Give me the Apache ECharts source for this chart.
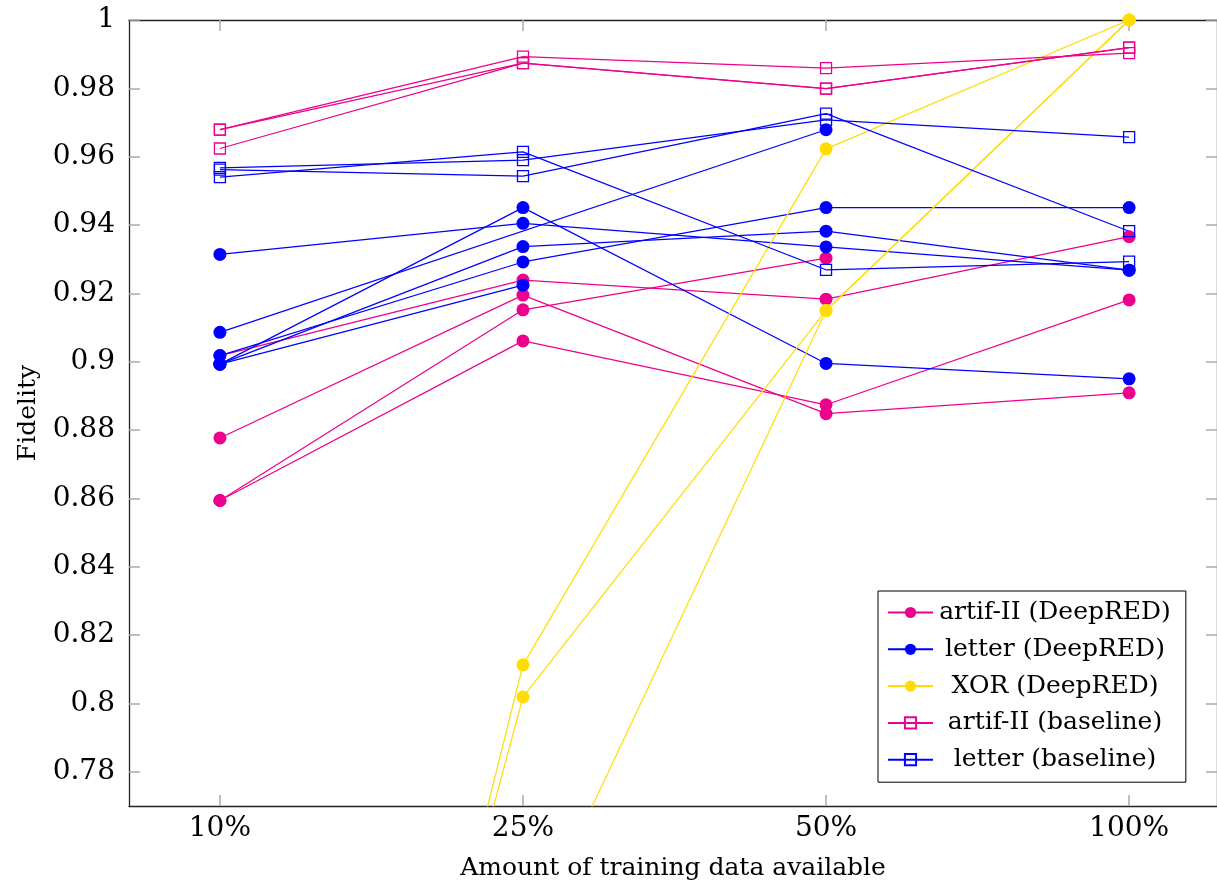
<!DOCTYPE html>
<html>
<head>
<meta charset="utf-8">
<script src="https://cdn.jsdelivr.net/npm/echarts@6/dist/echarts.min.js"></script>
<style>
  html, body { margin: 0; padding: 0; background: #fff; }
  #chart { width: 1217px; height: 886px; }
</style>
</head>
<body>
<div id="chart"></div>
<script>
// x categories and y tick values
const categories = ['10%', '25%', '50%', '100%'];
const yTicks = [0.78, 0.8, 0.82, 0.84, 0.86, 0.88, 0.9, 0.92, 0.94, 0.96, 0.98, 1];

// one inner array per run: fidelity at 10%, 25%, 50%, 100% (null = no point)
const artifDeepRED = [
  [0.9018, 0.9239, 0.9183, 0.9366],
  [0.8777, 0.9195, 0.8848, 0.8909],
  [0.8594, 0.9152, 0.9303, null],
  [0.8594, 0.9061, 0.8874, 0.9181]
];
const letterDeepRED = [
  [0.9314, 0.9405, 0.9336, 0.9268],
  [0.9086, null, 0.9679, null],
  [0.8993, 0.9451, 0.8995, 0.8950],
  [0.8993, 0.9337, 0.9382, 0.9268],
  [0.9018, 0.9292, 0.9451, 0.9451],
  [0.8993, 0.9224, null, null]
];
const xorDeepRED = [
  [0.457, 0.8113, 0.9623, 1.0],
  [0.472, 0.8019, 0.9150, 1.0],
  [null, 0.727, 0.9150, 1.0]
];
const artifBaseline = [
  [0.9679, 0.9893, 0.9859, 0.9903],
  [0.9679, 0.9874, 0.9799, 0.9919],
  [0.9624, 0.9874, 0.9799, 0.9919]
];
const letterBaseline = [
  [0.9567, 0.9590, 0.9708, 0.9657],
  [0.9540, 0.9614, 0.9269, 0.9293],
  [0.9562, 0.9543, 0.9726, 0.9382]
];

const FONT = 'DejaVu Serif';

const groups = [
  { name: 'artif-II (DeepRED)', runs: artifDeepRED, color: '#ec008c', hollow: false },
  { name: 'letter (DeepRED)', runs: letterDeepRED, color: '#0000ff', hollow: false },
  { name: 'XOR (DeepRED)', runs: xorDeepRED, color: '#ffdd00', hollow: false },
  { name: 'artif-II (baseline)', runs: artifBaseline, color: '#ec008c', hollow: true },
  { name: 'letter (baseline)', runs: letterBaseline, color: '#0000ff', hollow: true }
];

const series = [];
groups.forEach(g => {
  g.runs.forEach(run => {
    series.push({
      name: g.name,
      type: 'line',
      data: run.map((v, i) => [i, v == null ? '-' : v]),
      symbol: g.hollow ? 'rect' : 'circle',
      symbolSize: g.hollow ? 11 : 13,
      connectNulls: true,
      clip: true,
      lineStyle: { color: g.color, width: 1.2 },
      itemStyle: g.hollow
        ? { color: 'rgba(255,255,255,0)', borderColor: g.color, borderWidth: 1.3 }
        : { color: g.color },
      emphasis: { disabled: true }
    });
  });
});

const chart = echarts.init(document.getElementById('chart'));

const tickStyle = { inside: true, length: 11, lineStyle: { color: '#aaa', width: 1.5 } };
const axisLineStyle = { show: true, onZero: false, lineStyle: { color: '#222', width: 1.3 } };

chart.setOption({
  animation: false,
  grid: { left: 129, right: 0, top: 20, bottom: 78 },
  legend: {
    data: groups.map(g => g.name),
    orient: 'vertical',
    left: 878,
    top: 591,
    padding: [9, 15, 10, 9],
    itemGap: 11.8,
    itemWidth: 45,
    itemHeight: 14,
    selectedMode: false,
    backgroundColor: '#fff',
    borderColor: '#000',
    borderWidth: 1,
    formatter: name => '{c|' + name + '}',
    textStyle: {
      fontFamily: FONT,
      fontSize: 25,
      color: '#000',
      rich: { c: { width: 234, align: 'center', fontFamily: FONT, fontSize: 25, color: '#000' } }
    }
  },
  xAxis: [
    {
      type: 'value',
      min: -0.3,
      max: 3.29,
      position: 'bottom',
      name: 'Amount of training data available',
      nameLocation: 'middle',
      nameGap: 50,
      nameTextStyle: { fontFamily: FONT, fontSize: 25, color: '#000' },
      axisLine: axisLineStyle,
      axisTick: Object.assign({ customValues: [0, 1, 2, 3] }, tickStyle),
      axisLabel: {
        customValues: [0, 1, 2, 3],
        formatter: v => categories[Math.round(v)],
        margin: 9,
        fontFamily: FONT,
        fontSize: 28,
        color: '#000'
      },
      splitLine: { show: false }
    },
    {
      type: 'value',
      min: -0.3,
      max: 3.29,
      position: 'top',
      axisLine: axisLineStyle,
      axisTick: Object.assign({ customValues: [0, 1, 2, 3] }, tickStyle),
      axisLabel: { show: false },
      splitLine: { show: false }
    }
  ],
  yAxis: [
    {
      type: 'value',
      min: 0.77,
      max: 1,
      position: 'left',
      name: 'Fidelity',
      nameLocation: 'middle',
      nameGap: 88,
      nameTextStyle: { fontFamily: FONT, fontSize: 25, color: '#000' },
      axisLine: axisLineStyle,
      axisTick: Object.assign({ customValues: yTicks }, tickStyle),
      axisLabel: {
        customValues: yTicks,
        formatter: v => String(+v.toFixed(2)),
        margin: 14,
        fontFamily: FONT,
        fontSize: 28,
        color: '#000'
      },
      splitLine: { show: false }
    },
    {
      type: 'value',
      min: 0.77,
      max: 1,
      position: 'right',
      axisLine: axisLineStyle,
      axisTick: Object.assign({ customValues: yTicks }, tickStyle),
      axisLabel: { show: false },
      splitLine: { show: false }
    }
  ],
  series: series
});
</script>
</body>
</html>
